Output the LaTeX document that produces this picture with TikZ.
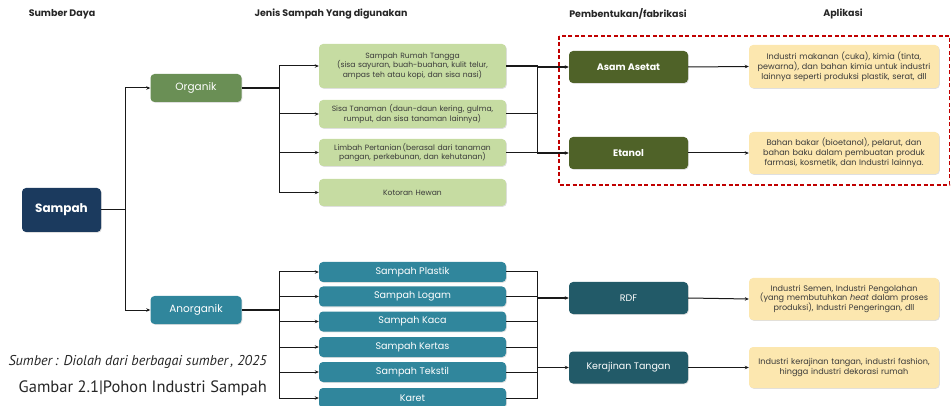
\documentclass[tikz,border=0pt]{standalone}
\usepackage{fontspec}
\setmainfont{Poppins}
\newfontfamily\capfont{PT Sans}
\usetikzlibrary{arrows.meta,shadows}
\definecolor{navy}{HTML}{1B3A5E}
\definecolor{orgG}{HTML}{6A8F55}
\definecolor{lightG}{HTML}{C6DCA2}
\definecolor{oliveD}{HTML}{4F6228}
\definecolor{appY}{HTML}{FCE7AF}
\definecolor{tealA}{HTML}{30869C}
\definecolor{tealD}{HTML}{225A68}
\definecolor{redD}{HTML}{C00000}
\definecolor{txtG}{HTML}{3A3A3A}
\tikzset{
  base/.style={rounded corners=4pt, inner sep=0pt, align=center, drop shadow={shadow xshift=0.8pt, shadow yshift=-0.8pt, opacity=0.25}},
  srcbox/.style={base, fill=navy, text=white, font=\bfseries\fontsize{12}{14}\selectfont, minimum width=79pt, minimum height=44pt},
  catO/.style={base, fill=orgG, text=white, font=\fontsize{10.5}{12}\selectfont, minimum width=91pt, minimum height=28pt},
  catA/.style={base, fill=tealA, text=white, font=\fontsize{10.5}{12}\selectfont, minimum width=91pt, minimum height=28pt},
  gbox/.style={base, fill=lightG, text=txtG, font=\fontsize{7.6}{9.6}\selectfont, minimum width=187pt, text width=185pt},
  tbox/.style={base, fill=tealA, text=white, font=\fontsize{9.6}{11}\selectfont, minimum width=187pt, minimum height=20pt},
  prodO/.style={base, fill=oliveD, text=white, font=\bfseries\fontsize{9.5}{11}\selectfont, minimum width=119pt, minimum height=32pt},
  prodT/.style={base, fill=tealD, text=white, font=\fontsize{9.5}{11}\selectfont, minimum width=119pt, minimum height=32pt},
  appbox/.style={base, fill=appY, text=txtG, font=\fontsize{8.1}{9.8}\selectfont, minimum width=190pt, text width=186pt},
  head/.style={font=\bfseries\fontsize{9.5}{11}\selectfont, text=black!85},
  ln/.style={line width=1pt, black!90},
  thk/.style={line width=1.8pt, black!90},
  arr/.style={ln, -{Stealth[length=4pt,width=3.5pt]}},
  arrT/.style={thk, -{Stealth[length=4pt,width=3.5pt]}},
}
\begin{document}
\begin{tikzpicture}[x=1pt,y=-1pt]
\useasboundingbox (0,0) rectangle (951,406);
% headers
\node[head] (h1) at (62,14) {Sumber Daya};
\node[head] (h2) at (331,14) {Jenis Sampah Yang digunakan};
\node[head] (h3) at (628,14) {Pembentukan/fabrikasi};
\node[head] (h4) at (843,14) {Aplikasi};
% red dashed frame
\draw[redD, line width=1.5pt, dash pattern=on 4pt off 2.5pt] (559,36) rectangle (949.5,185);
% source
\node[srcbox] (sampah) at (61.5,210) {Sampah};
\node[catO] (org) at (196,88) {Organik};
\node[catA] (anorg) at (196,310) {Anorganik};
% organik types
\node[gbox, minimum height=44pt] (g1) at (412.5,66) {Sampah Rumah Tangga\\(sisa sayuran, buah-buahan, kulit telur,\\ampas teh atau kopi, dan sisa nasi)};
\node[gbox, minimum height=28pt] (g2) at (412.5,114) {Sisa Tanaman (daun-daun kering, gulma,\\rumput, dan sisa tanaman lainnya)};
\node[gbox, minimum height=27pt] (g3) at (412.5,152.5) {Limbah Pertanian\,(berasal dari tanaman\\pangan, perkebunan, dan kehutanan)};
\node[gbox, minimum height=27pt] (g4) at (412.5,192.5) {Kotoran Hewan};
% anorganik types
\node[tbox] (t1) at (412.5,272) {Sampah Plastik};
\node[tbox] (t2) at (412.5,296.5) {Sampah Logam};
\node[tbox] (t3) at (412.5,321.5) {Sampah Kaca};
\node[tbox] (t4) at (412.5,347) {Sampah Kertas};
\node[tbox] (t5) at (412.5,372) {Sampah Tekstil};
\node[tbox] (t6) at (412.5,398) {Karet};
% products
\node[prodO] (asam) at (628.5,67) {Asam Asetat};
\node[prodO] (etanol) at (628.5,153) {Etanol};
\node[prodT] (rdf) at (628.5,298) {RDF};
\node[prodT] (kraj) at (628.5,367.5) {Kerajinan Tangan};
% applications
\node[appbox, minimum height=43pt] (a1) at (844,66.5) {Industri makanan (cuka), kimia (tinta,\\pewarna), dan bahan kimia untuk industri\\lainnya seperti produksi plastik, serat, dll};
\node[appbox, minimum height=42pt] (a2) at (844,153) {Bahan bakar (bioetanol), pelarut, dan\\bahan baku dalam pembuatan produk\\farmasi, kosmetik, dan Industri lainnya.};
\node[appbox, minimum height=42pt] (a3) at (844,299) {Industri Semen, Industri Pengolahan\\(yang membutuhkan \textit{heat} dalam proses\\produksi), Industri Pengeringan, dll};
\node[appbox, minimum height=41pt] (a4) at (844,367.5) {Industri kerajinan tangan, industri fashion,\\hingga industri dekorasi rumah};
% junction coordinates
\coordinate (j0) at (125,210);
\coordinate (jo) at (279.5,88);
\coordinate (ja) at (279.5,310);
\coordinate (jg) at (537.5,110);
\coordinate (jt) at (537.5,330);
% sampah -> categories
\draw[ln] (sampah.east) -- (j0);
\draw[arr] (j0) |- (org.west);
\draw[arr] (j0) |- (anorg.west);
% organik -> types
\draw[thk] (org.east) -- (jo);
\foreach \n in {g1,g2,g3,g4} \draw[arr] (jo) |- (\n.west);
% anorganik -> types
\draw[thk] (anorg.east) -- (ja);
\foreach \n in {t1,t2,t3,t4,t5,t6} \draw[arr] (ja) |- (\n.west);
% organik types -> products
\draw[ln] (g2.east) -- (g2.east -| jg);
\draw[thk] (g1.east) -- (g1.east -| jg);
\draw[thk] (g3.east) -- (g3.east -| jg);
\draw[ln] (g1.east -| jg) -- (g3.east -| jg);
\draw[arrT] (g1.east -| jg) |- (asam.west);
\draw[arrT] (g3.east -| jg) |- (etanol.west);
% anorganik types -> products
\foreach \n in {t1,t2,t3,t4,t5,t6} \draw[ln] (\n.east) -- (\n.east -| jt);
\draw[ln] (t1.east -| jt) -- (t6.east -| jt);
\draw[arrT] (rdf.west -| jt) -- (rdf.west);
\draw[arrT] (kraj.west -| jt) -- (kraj.west);
% products -> applications
\draw[arr] (asam.east) -- (a1.west);
\draw[arr] (etanol.east) -- (a2.west);
\draw[arr] (rdf.east) -- (a3.west);
\draw[arr] (kraj.east) -- (a4.west);
% caption
\node[anchor=east, font=\capfont\itshape\fontsize{14.2}{16}\selectfont, text=black!85, inner sep=0pt] (src) at (267,362) {Sumber\,: Diolah dari berbagai sumber\,, 2025};
\node[anchor=east, font=\capfont\fontsize{16.5}{18}\selectfont, text=black!85, inner sep=0pt] (cap) at (267,388) {Gambar 2.1|Pohon Industri Sampah};
\end{tikzpicture}
\end{document}
